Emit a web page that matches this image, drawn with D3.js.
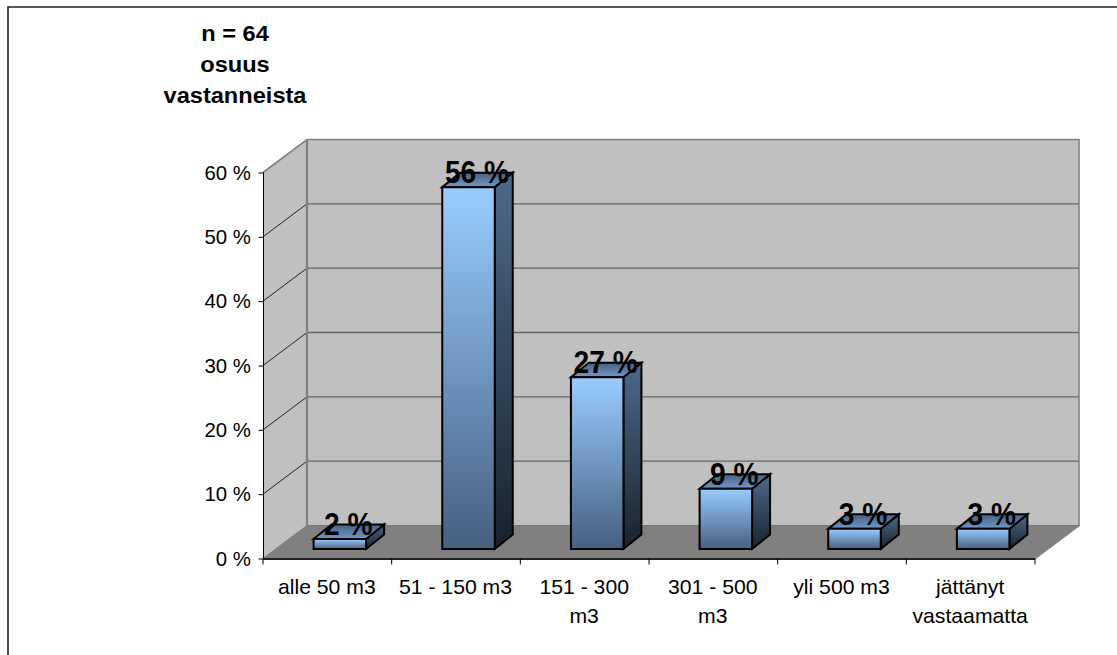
<!DOCTYPE html>
<html><head><meta charset="utf-8">
<script src="https://cdn.jsdelivr.net/npm/d3@7/dist/d3.min.js"></script>
<style>html,body{margin:0;padding:0;background:#fff}svg{display:block}text{font-family:"Liberation Sans",Arial,sans-serif;fill:#000}</style>
</head><body><script>
const categories=[["alle 50 m3"],["51 - 150 m3"],["151 - 300","m3"],["301 - 500","m3"],["yli 500 m3"],["jättänyt","vastaamatta"]];
const values=[1.56,56.25,26.7,9.38,3.13,3.13];
const valueLabels=["2 %","56 %","27 %","9 %","3 %","3 %"];
const yTicks=[0,10,20,30,40,50,60];
const titleLines=["n = 64","osuus","vastanneista"];

const W=1117,H=655;
const svg=d3.select("body").append("svg").attr("width",W).attr("height",H);
const x=d3.scaleBand().domain(d3.range(categories.length)).range([263,1035]);
const y=d3.scaleLinear().domain([0,60]).range([558.5,172.5]);
const DX=44,DY=-33, bw=52.5, bdx=18, bdy=-14.5, bx=12.5, by=-9.5;
const poly=(pts,fill,stroke,sw)=>svg.append("polygon").attr("points",pts.map(p=>p.join(",")).join(" ")).attr("fill",fill).attr("stroke",stroke||"none").attr("stroke-width",sw||0).attr("stroke-linejoin","miter");
const defs=svg.append("defs");
function grad(id,stops){const g=defs.append("linearGradient").attr("id",id).attr("x1",0).attr("y1",0).attr("x2",0).attr("y2",1);
 stops.forEach(s=>g.append("stop").attr("offset",s[0]).attr("stop-color",s[1]));}
grad("front",[[0,"#99ccff"],[1,"#466080"]]);
grad("side",[[0,"#4d6a8c"],[1,"#18222c"]]);
grad("top",[[0,"#466080"],[1,"#7099c8"]]);

// outer frame: left and top edges only
svg.append("path").attr("d",`M8,${H} V7 H${W}`).attr("fill","none").attr("stroke","#222").attr("stroke-width",1.6);

const y0=y(0),y6=y(60),xL=x.range()[0],xR=x.range()[1];
poly([[xL,y0],[xL+DX,y0+DY],[xL+DX,y6+DY],[xL,y6]],"#c0c0c0");
poly([[xL+DX,y0+DY],[xR+DX,y0+DY],[xR+DX,y6+DY],[xL+DX,y6+DY]],"#c0c0c0");
poly([[xL,y0],[xL+DX,y0+DY],[xR+DX,y0+DY],[xR,y0]],"#808080");
yTicks.slice(1,-1).forEach(t=>svg.append("line").attr("x1",xL+DX).attr("x2",xR+DX).attr("y1",y(t)+DY).attr("y2",y(t)+DY).attr("stroke","#666").attr("stroke-width",1.3));
yTicks.slice(1,-1).forEach(t=>svg.append("line").attr("x1",xL).attr("y1",y(t)).attr("x2",xL+DX).attr("y2",y(t)+DY).attr("stroke","#111").attr("stroke-width",.9));
svg.append("path").attr("d",`M${xL},${y6} L${xL+DX},${y6+DY} H${xR+DX} V${y0+DY} L${xR},${y0}`).attr("fill","none").attr("stroke","#808080").attr("stroke-width",1.6);
svg.append("line").attr("x1",xL+DX).attr("x2",xL+DX).attr("y1",y6+DY).attr("y2",y0+DY).attr("stroke","#808080").attr("stroke-width",2.2);
svg.append("path").attr("d",`M${xL},${y0} L${xL+DX},${y0+DY} H${xR+DX}`).attr("fill","none").attr("stroke","#777").attr("stroke-width",1);

function txt(px,py,s,size,bold,sx){
 return svg.append("text").attr("transform",`translate(${px},${py}) scale(${sx},1)`).attr("text-anchor","middle").attr("font-size",size).attr("font-weight",bold?700:400).text(s);
}
values.forEach((v,i)=>{
 const l=x(i)+x.bandwidth()/2+bx-bw/2, r=l+bw, b=y0+by, t=y(v)+by;
 const s="#000",sw=2;
 poly([[r,t],[r+bdx,t+bdy],[r+bdx,b+bdy],[r,b]],"url(#side)",s,sw);
 poly([[l,t],[l+bdx,t+bdy],[r+bdx,t+bdy],[r,t]],"url(#top)",s,sw);
 poly([[l,t],[r,t],[r,b],[l,b]],"url(#front)",s,sw);
});
const yAxis=svg.append("g").attr("transform",`translate(${xL+.5},0)`).call(d3.axisLeft(y).tickValues(yTicks).tickSize(5).tickFormat(""));
yAxis.selectAll("line").attr("stroke","#000");
yAxis.select(".domain").attr("stroke","#000").attr("d",`M0,${y6}V${y0}`);
svg.append("line").attr("x1",xL).attr("x2",xR).attr("y1",y0+.5).attr("y2",y0+.5).attr("stroke","#222").attr("stroke-width",2);
d3.range(categories.length+1).forEach(i=>{const px=xL+i*x.step();
 svg.append("line").attr("x1",px).attr("x2",px).attr("y1",y0).attr("y2",y0+6).attr("stroke","#000");});
yTicks.forEach(t=>txt(251,y(t)+7,t+" %",20.4,false,1).attr("text-anchor","end"));
categories.forEach((lines,i)=>lines.forEach((s,j)=>txt(x(i)+x.bandwidth()/2-.5,y0+35+j*29,s,20.4,false,1.04)));
valueLabels.forEach((s,i)=>{
 const l=x(i)+x.bandwidth()/2+bx-bw/2;
 txt(l+bw/2+8.5,y(values[i])+by-4,s,32,true,.88);
});
titleLines.forEach((s,i)=>txt(235,41+i*31,s,22.5,true,1.05));
</script></body></html>
